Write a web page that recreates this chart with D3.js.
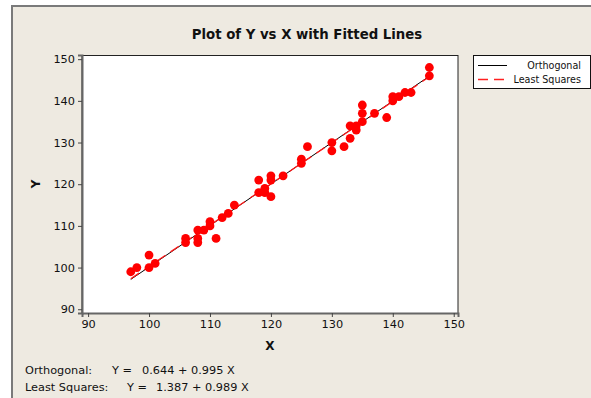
<!DOCTYPE html>
<html>
<head>
<meta charset="utf-8">
<script src="https://cdn.jsdelivr.net/npm/d3@7"></script>
<style>
  body { margin: 0; background: #fff; }
  text { font-family: "DejaVu Sans", sans-serif; fill: #111; }
</style>
</head>
<body>
<svg width="591" height="398"></svg>
<script>
// data
var xs = [97, 98, 100, 100, 101, 106, 106, 108, 108, 108, 109, 110, 110, 111, 112, 113, 114,
          118, 118, 119, 119, 120, 120, 120, 122, 125, 125, 126, 130, 130, 132, 133, 133,
          134, 134, 135, 135, 135, 137, 139, 140, 140, 141, 142, 143, 146, 146];
var ys = [99, 100, 103, 100, 101, 107, 106, 109, 107, 106, 109, 111, 110, 107, 112, 113, 115,
          121, 118, 119, 118, 122, 121, 117, 122, 126, 125, 129, 130, 128, 129, 131, 134,
          133, 134, 135, 137, 139, 137, 136, 140, 141, 141, 142, 142, 148, 146];
var xTicks = [90, 100, 110, 120, 130, 140, 150];
var yTicks = [90, 100, 110, 120, 130, 140, 150];
var fitNames = ["Orthogonal", "Least Squares"];
var fitIntercepts = [0.644, 1.387];
var fitSlopes = [0.995, 0.989];
var fitLabels = ["0.644 + 0.995 X", "1.387 + 0.989 X"];

const svg = d3.select("svg");

// outer frame
svg.append("rect").attr("x", 12).attr("y", 6).attr("width", 600).attr("height", 420)
  .attr("fill", "#eeeae1").attr("stroke", "#7a7a7a").attr("stroke-width", 2);

const pL = 82, pR = 458, pT = 55, pB = 313;
const x = d3.scaleLinear().domain([89, 150.7]).range([pL, pR]);
const y = d3.scaleLinear().domain([89.1, 151]).range([pB, pT]);

svg.append("rect").attr("x", pL).attr("y", pT + 0.5)
  .attr("width", pR - pL).attr("height", pB - pT)
  .attr("fill", "#fff").attr("stroke", "#222").attr("stroke-width", 1);

// axes
const xAxis = svg.append("g").attr("transform", `translate(0,${pB})`)
  .call(d3.axisBottom(x).tickValues(xTicks).tickSize(4).tickPadding(3));
const yAxis = svg.append("g").attr("transform", `translate(${pL},0)`)
  .call(d3.axisLeft(y).tickValues(yTicks).tickSize(4).tickPadding(3));
[xAxis, yAxis].forEach(function (g) {
  g.select(".domain").attr("stroke", "#666").attr("stroke-width", 2);
  g.selectAll(".tick line").attr("stroke", "#444");
  g.selectAll("text").attr("font-family", "DejaVu Sans").attr("font-size", 11.3).attr("fill", "#111");
});

// title and axis labels
svg.append("text").attr("x", 307).attr("y", 39).attr("text-anchor", "middle")
  .attr("font-size", 13.3).attr("font-weight", "bold").text("Plot of Y vs X with Fitted Lines");
svg.append("text").attr("x", 270).attr("y", 350).attr("text-anchor", "middle")
  .attr("font-size", 12).attr("font-weight", "bold").text("X");
svg.append("text").attr("transform", "translate(40,184) rotate(-90)").attr("text-anchor", "middle")
  .attr("font-size", 12).attr("font-weight", "bold").text("Y");

// fitted lines
const x0 = d3.min(xs), x1 = d3.max(xs);
const styles = [{ stroke: "#000", w: 1, dash: null }, { stroke: "#ff1a1a", w: 1.3, dash: "10,6" }];
fitNames.forEach(function (n, i) {
  svg.append("line")
    .attr("x1", x(x0)).attr("y1", y(fitIntercepts[i] + fitSlopes[i] * x0))
    .attr("x2", x(x1)).attr("y2", y(fitIntercepts[i] + fitSlopes[i] * x1))
    .attr("stroke", styles[i].stroke).attr("stroke-width", styles[i].w)
    .attr("stroke-dasharray", styles[i].dash);
});

// points
svg.append("g").selectAll("circle")
  .data(xs)
  .enter()
  .append("circle")
  .attr("cx", function (d) { return x(d); })
  .attr("cy", function (d, i) { return y(ys[i]); })
  .attr("r", 4.4)
  .attr("fill", "#ff0000");

// legend
const lg = svg.append("g");
lg.append("rect").attr("x", 473.5).attr("y", 55.5).attr("width", 117).attr("height", 33)
  .attr("fill", "#fff").attr("stroke", "#111");
fitNames.forEach(function (n, i) {
  const ly = 65.5 + i * 14;
  lg.append("line").attr("x1", 478).attr("x2", 507).attr("y1", ly).attr("y2", ly)
    .attr("stroke", i ? "#ff2020" : "#000").attr("stroke-width", i ? 1.4 : 1)
    .attr("stroke-dasharray", i ? "10,6" : null);
  lg.append("text").attr("x", 581).attr("y", ly + 3.5).attr("text-anchor", "end")
    .attr("font-size", 9.6).text(n);
});

// equations under the chart
const eqX = [[25, 112, 142], [25, 127, 156]];
fitNames.forEach(function (n, i) {
  const by = 374 + i * 17;
  svg.append("text").attr("x", eqX[i][0]).attr("y", by).attr("font-size", 11.3).text(n + ":");
  svg.append("text").attr("x", eqX[i][1]).attr("y", by).attr("font-size", 11.3).text("Y =");
  svg.append("text").attr("x", eqX[i][2]).attr("y", by).attr("font-size", 11.3).text(fitLabels[i]);
});
</script>
</body>
</html>
